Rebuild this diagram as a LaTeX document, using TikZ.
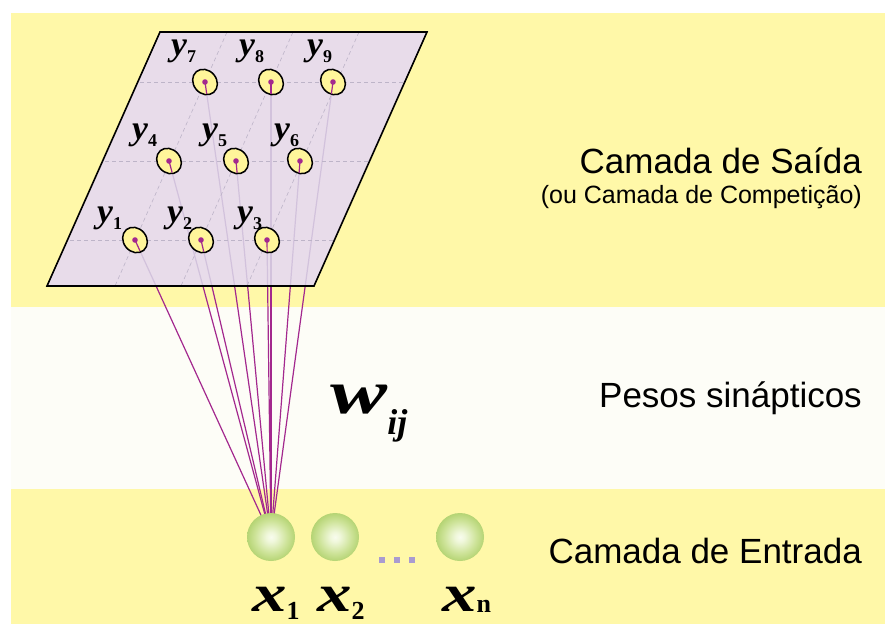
\documentclass[tikz,border=0pt]{standalone}
\usepackage{fontspec}
\usepackage{graphicx}
\setmainfont{Liberation Sans}
\newfontfamily\tms{Liberation Serif}
\usetikzlibrary{calc,shapes.geometric}
\definecolor{bandyellow}{HTML}{FFF8A8}
\definecolor{bandwhite}{HTML}{FDFDF7}
\definecolor{planefill}{HTML}{E8DCEA}
\definecolor{wirec}{HTML}{A3288E}
\definecolor{wirelight}{HTML}{D2C2DC}
\definecolor{neuronfill}{HTML}{FFF59A}
\definecolor{gridc}{HTML}{BDB4C8}
\definecolor{dotc}{HTML}{A99BD0}
\definecolor{gA}{HTML}{F8FCEE}
\definecolor{gB}{HTML}{DDEDB0}
\definecolor{gC}{HTML}{B5D474}
\pgfdeclareradialshading{greensphere}{\pgfpoint{0bp}{0bp}}{color(0bp)=(gA); color(5bp)=(gA!70!gB); color(17bp)=(gB!60!gC); color(25bp)=(gC); color(50bp)=(gC)}
\newcommand\ylab[1]{\scalebox{1.05}[1]{\tms\bfseries\itshape\fontsize{34}{34}\selectfont y}\raisebox{-7pt}{\tms\bfseries\fontsize{18}{18}\selectfont #1}}
\newcommand\xlab[2]{\scalebox{1.3}[1]{\tms\bfseries\itshape\fontsize{53}{53}\selectfont x}\raisebox{#2}{\tms\bfseries\fontsize{26}{26}\selectfont #1}}
\tikzset{
  wire/.style={draw=wirec, line width=1.2pt},
  wirepale/.style={draw=wirelight, line width=1.2pt},
  gridline/.style={draw=gridc, line width=0.6pt, dash pattern=on 4pt off 3pt},
  neuron/.style={draw=black, line width=1.5pt, fill=neuronfill},
  lab/.style={inner sep=0pt, anchor=base west},
  sidetext/.style={inner sep=0pt, anchor=base east, font=\fontsize{35}{35}\selectfont},
  subtext/.style={inner sep=0pt, anchor=base east, font=\fontsize{25}{25}\selectfont},
  sphere/.style={circle, inner sep=0pt, minimum size=48pt, shading=greensphere},
  dotsq/.style={fill=dotc, inner sep=0pt, minimum size=6pt}
}
\begin{document}
\begin{tikzpicture}[x=1pt, y=-1pt]
\useasboundingbox (0,0) rectangle (885,624);
\fill[white] (0,0) rectangle (885,624);
% bands
\fill[bandyellow] (11,13) rectangle (885,307);
\fill[bandwhite] (11,307) rectangle (885,489);
\fill[bandyellow] (11,489) rectangle (885,624);
% coordinates
\coordinate (P1) at (160,32);
\coordinate (P2) at (427,32);
\coordinate (P3) at (314,286);
\coordinate (P4) at (47,286);
\coordinate (n1) at (135,240);
\coordinate (n2) at (201,240);
\coordinate (n3) at (267,240);
\coordinate (n4) at (169,161);
\coordinate (n5) at (236,161);
\coordinate (n6) at (300,161);
\coordinate (n7) at (205,82);
\coordinate (n8) at (271,82);
\coordinate (n9) at (333,82);
\coordinate (xa) at (271,537);
\coordinate (xb) at (335,537);
\coordinate (xc) at (460,537);
% wires
\foreach \i in {1,...,9} \draw[wire] (n\i) -- (xa);
% plane
\fill[planefill] (P1) -- (P2) -- (P3) -- (P4) -- cycle;
\begin{scope}
  \clip (P1) -- (P2) -- (P3) -- (P4) -- cycle;
  \foreach \i in {1,...,9} \draw[wirepale] (n\i) -- (xa);
  \foreach \y in {82,161,240} \draw[gridline] (0,\y) -- (500,\y);
  \draw[gridline] (227,32) -- (115,286);
  \draw[gridline] (293,32) -- (181,286);
  \draw[gridline] (359,32) -- (247,286);
\end{scope}
\draw[black, line width=1.6pt, line join=miter] (P1) -- (P2) -- (P3) -- (P4) -- cycle;
% neurons
\foreach \i in {1,...,9} {
  \draw[neuron] (n\i) ellipse [x radius=13.5, y radius=11.5, rotate=-50];
  \draw[wire] (n\i) -- ($(n\i)!12pt!(xa)$);
  \fill[wirec] (n\i) circle (2.8);
}
% neuron labels
\node[lab] (l1) at (97,222.5) {\ylab{1}};
\node[lab] (l2) at (167,222.5) {\ylab{2}};
\node[lab] (l3) at (237,222.5) {\ylab{3}};
\node[lab] (l4) at (132,139.5) {\ylab{4}};
\node[lab] (l5) at (202,139.5) {\ylab{5}};
\node[lab] (l6) at (274,139.5) {\ylab{6}};
\node[lab] (l7) at (171,55.5) {\ylab{7}};
\node[lab] (l8) at (239,55.5) {\ylab{8}};
\node[lab] (l9) at (307,55.5) {\ylab{9}};
% input layer
\node[sphere] (s1) at (xa) {};
\node[sphere] (s2) at (xb) {};
\node[sphere] (s3) at (xc) {};
\node[dotsq] (d1) at (382,560) {};
\node[dotsq] (d2) at (397,560) {};
\node[dotsq] (d3) at (412,560) {};
\node[lab] (x1) at (252,611) {\xlab{1}{-8pt}};
\node[lab] (x2) at (317,611) {\xlab{2}{-8pt}};
\node[lab] (xn) at (442,611) {\xlab{n}{-1pt}};
% weights
\node[lab] (w) at (330,413) {\scalebox{1.38}[1]{\tms\bfseries\itshape\fontsize{62}{62}\selectfont w}\raisebox{-21pt}{\tms\bfseries\itshape\fontsize{36}{36}\selectfont ij}};
% right texts
\node[sidetext] (t1) at (862,173) {Camada de Saída};
\node[subtext] (t2) at (862,203) {(ou Camada de Competição)};
\node[sidetext] (t3) at (862,407) {Pesos sinápticos};
\node[sidetext] (t4) at (862,563) {Camada de Entrada};
\end{tikzpicture}
\end{document}
